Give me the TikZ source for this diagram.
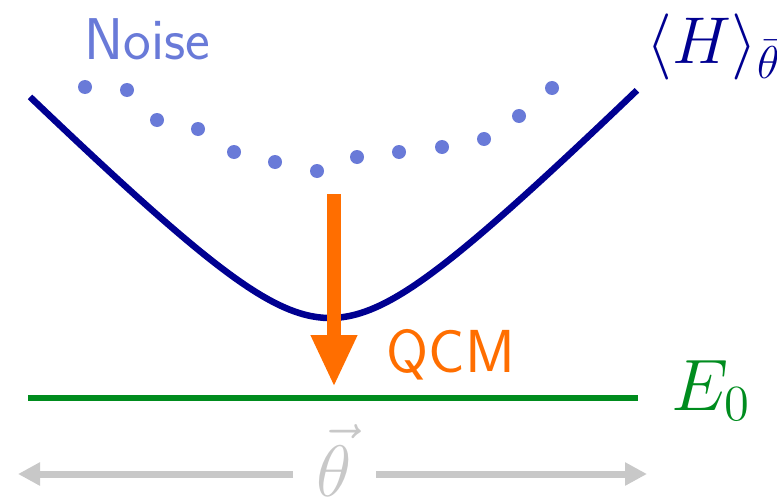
\documentclass[tikz,border=0pt]{standalone}
\usepackage{amsmath}
\usetikzlibrary{arrows.meta}

\definecolor{noiseblue}{RGB}{105,122,216}
\definecolor{curveblue}{RGB}{0,0,145}
\definecolor{qcmorange}{RGB}{255,110,0}
\definecolor{egreen}{RGB}{0,140,30}
\definecolor{axisgray}{RGB}{200,200,200}

\begin{document}
\begin{tikzpicture}[
    dot/.style={fill=noiseblue, draw=none},
    lbl/.style={inner sep=0pt, anchor=base west},
    energy/.style={curveblue, line width=0.065cm},
    ground/.style={egreen, line width=0.065cm},
    qcm/.style={qcmorange, line width=0.14cm, -{Triangle[length=0.52cm, width=0.43cm]}},
    axis/.style={axisgray, line width=0.07cm, -{Triangle[length=0.22cm, width=0.22cm]}}
]
\useasboundingbox (0,0) rectangle (7.77,4.99);

% noisy estimates
\foreach \x/\y in {0.85/4.12, 1.27/4.09, 1.57/3.79, 1.98/3.70, 2.34/3.47,
                   2.75/3.37, 3.17/3.28, 3.57/3.42, 3.99/3.47, 4.42/3.52,
                   4.84/3.60, 5.19/3.83, 5.52/4.11}
    \fill[dot] (\x,\y) circle (0.07);
\node[lbl, noiseblue] (noise) at (0.84,4.39)
    {\scalebox{0.97}{\fontsize{17.28}{20}\selectfont\sffamily Noise}};

% energy landscape
\draw[energy] plot[domain=0.30:6.37, samples=90, smooth]
    (\x, {1.81 + sqrt((\x-3.30)^2 + 0.93^2) - 0.93});
\node[lbl, curveblue] (hexp) at (6.46,4.36)
    {\scalebox{1.09}{\fontsize{17.28}{20}\selectfont$\langle H\rangle_{\bar{\theta}}$}};

% ground state
\coordinate (gl) at (0.28,1.01);
\coordinate (gr) at (6.38,1.01);
\draw[ground] (gl) -- (gr);
\node[lbl, egreen] (e0) at (6.71,0.89)
    {\fontsize{20.74}{24}\selectfont$E_0$};

% QCM correction
\coordinate (qtop) at (3.34,3.05);
\coordinate (qtip) at (3.34,1.12);
\draw[qcm] (qtop) -- (qtip);
\node[lbl, qcmorange] (qcmlbl) at (3.86,1.27)
    {\fontsize{17.28}{20}\selectfont\sffamily QCM};

% parameter axis
\node[axisgray, inner sep=0pt, anchor=base] (theta) at (3.34,0.03)
    {\fontsize{20.74}{24}\selectfont$\vec{\theta}$};
\coordinate (axl) at (0.18,0.25);
\coordinate (axr) at (6.47,0.25);
\draw[axis] (2.93,0.25) -- (axl);
\draw[axis] (3.76,0.25) -- (axr);
\end{tikzpicture}
\end{document}
